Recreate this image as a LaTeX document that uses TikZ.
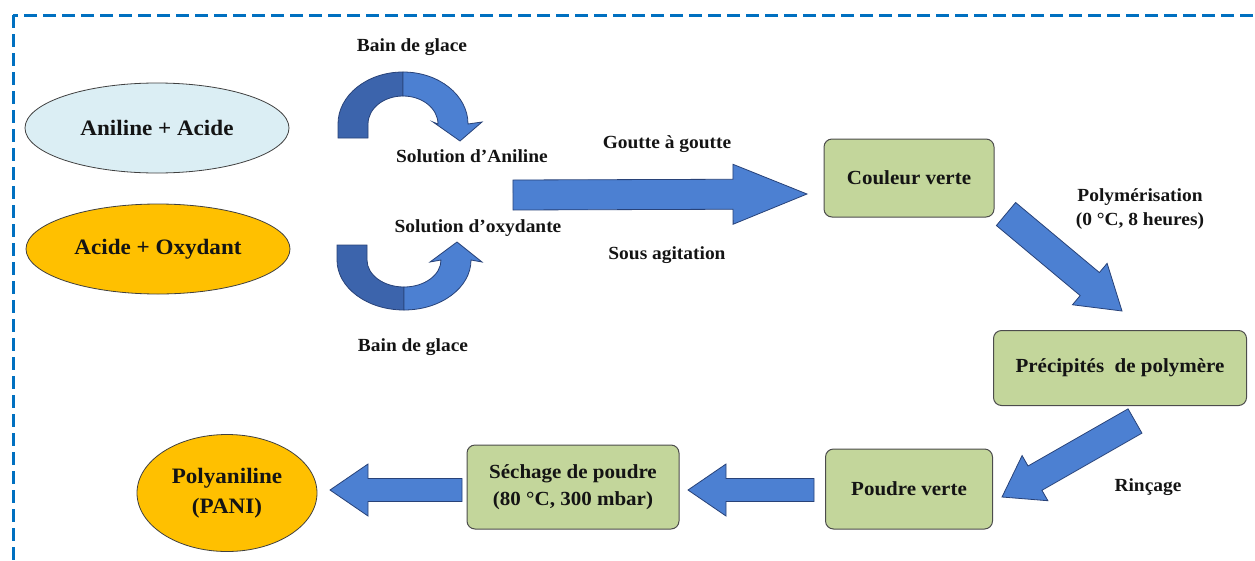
\documentclass[tikz,border=0pt]{standalone}
\usepackage{fontspec}
\setmainfont[FakeStretch=1.05]{Liberation Serif}
\usetikzlibrary{shapes.geometric,calc}

\definecolor{frameblue}{RGB}{0,112,192}
\definecolor{paleblue}{RGB}{219,238,244}
\definecolor{amber}{RGB}{255,192,0}
\definecolor{sage}{RGB}{195,214,155}
\definecolor{arrowfill}{RGB}{76,128,210}
\definecolor{arrowdark}{RGB}{60,100,172}
\definecolor{arrowline}{RGB}{40,66,120}
\definecolor{ink}{RGB}{20,20,20}

% block arrow: from, to, shaft half width, head half width, head length
\newcommand{\blockarrow}[5]{%
  \coordinate (hb) at ($(#2)!#5!(#1)$);
  \path[block]
    ($(#1)!#3!90:(#2)$) -- ($(hb)!#3!90:(#2)$) -- ($(hb)!#4!90:(#2)$) --
    (#2) -- ($(hb)!#4!-90:(#2)$) -- ($(hb)!#3!-90:(#2)$) --
    ($(#1)!#3!-90:(#2)$) -- cycle;}

\tikzset{
  lbl/.style={font=\fontsize{18.5}{24}\selectfont\bfseries, text=ink, inner sep=0pt, align=center},
  oval/.style={ellipse, draw=black!75, line width=0.8pt, inner sep=0pt,
    font=\fontsize{22}{30}\selectfont\bfseries, text=ink, align=center},
  stage/.style={rectangle, rounded corners=8pt, draw=black!70, line width=1pt, fill=sage,
    inner sep=0pt, font=\fontsize{20}{27}\selectfont\bfseries, text=ink, align=center},
  block/.style={fill=arrowfill, draw=arrowline, line width=0.8pt, line join=miter},
  curlback/.style={fill=arrowdark, draw=arrowline, line width=0.8pt, line join=miter},
  curlfront/.style={fill=arrowfill, draw=arrowline, line width=0.8pt, line join=miter},
}

\begin{document}
\begin{tikzpicture}[x=1pt, y=-1pt]
\useasboundingbox (0,0) rectangle (1255,560);

% dashed frame
\draw[frameblue, line width=3pt, dash pattern=on 13pt off 6pt] (13,15) rectangle (1320,620);

% starting solutions
\node[oval, fill=paleblue, minimum width=264pt, minimum height=90pt] (aniline) at (157,128) {Aniline + Acide};
\node[oval, fill=amber, minimum width=264pt, minimum height=90pt] (oxydant) at (158,249) {Acide + Oxydant};

% ice bath, upper curl
\path[curlback] (338,138) -- (338,124) arc[start angle=180, end angle=270, x radius=65, y radius=52]
  -- (403,96) arc[start angle=270, end angle=180, x radius=35, y radius=28] -- (368,138) -- cycle;
\path[curlfront] (403,72) arc[start angle=270, end angle=360, x radius=65, y radius=52]
  -- (482,122) -- (460,141) -- (433,122) -- (438,124)
  arc[start angle=360, end angle=270, x radius=35, y radius=28] -- cycle;

% ice bath, lower curl
\path[curlback] (337,245) -- (337,260) arc[start angle=180, end angle=90, x radius=67, y radius=50]
  -- (404,287) arc[start angle=90, end angle=180, x radius=37, y radius=27] -- (367,245) -- cycle;
\path[curlfront] (404,310) arc[start angle=90, end angle=0, x radius=67, y radius=50]
  -- (482,262) -- (457,242) -- (430,262) -- (441,260)
  arc[start angle=0, end angle=90, x radius=37, y radius=27] -- cycle;

\node[lbl] (bath1) at (412,47) {Bain de glace};
\node[lbl] (solA) at (472,156) {Solution d’Aniline};
\node[lbl] (solO) at (478,228) {Solution d’oxydante};
\node[lbl] (bath2) at (413,347) {Bain de glace};

% dropwise addition
\coordinate (m0) at (513,195);
\coordinate (m1) at (807,194);
\blockarrow{m0}{m1}{15pt}{30pt}{74pt}
\node[lbl] (drop) at (667,144) {Goutte à goutte};
\node[lbl] (stir) at (667,255) {Sous agitation};

% process stages
\node[stage, minimum width=170pt, minimum height=78pt] (green) at (909,178) {Couleur verte};
\node[stage, minimum width=253pt, minimum height=75pt] (precip) at (1120,368) {Précipités\ \ de polymère};
\node[stage, minimum width=167pt, minimum height=80pt] (powder) at (909,489) {Poudre verte};
\node[stage, minimum width=212pt, minimum height=84pt] (dry) at (573,487) {Séchage de poudre\\(80 °C, 300 mbar)};
\node[oval, fill=amber, minimum width=180pt, minimum height=117pt] (pani) at (227,493) {Polyaniline\\(PANI)};

\node[lbl] (poly) at (1140,209) {Polymérisation\\(0 °C, 8 heures)};
\node[lbl] (rinse) at (1148,487) {Rinçage};

% stage-to-stage arrows
\coordinate (d0) at (1006,214);
\coordinate (d1) at (1122,311);
\blockarrow{d0}{d1}{15pt}{27pt}{42pt}
\coordinate (r0) at (1135,421);
\coordinate (r1) at (1002,497);
\blockarrow{r0}{r1}{14pt}{26pt}{38pt}
\coordinate (p0) at (814,490);
\coordinate (p1) at (688,490);
\blockarrow{p0}{p1}{11.5pt}{26pt}{38pt}
\coordinate (s0) at (462,490);
\coordinate (s1) at (330,490);
\blockarrow{s0}{s1}{11.5pt}{26pt}{38pt}
\end{tikzpicture}
\end{document}
